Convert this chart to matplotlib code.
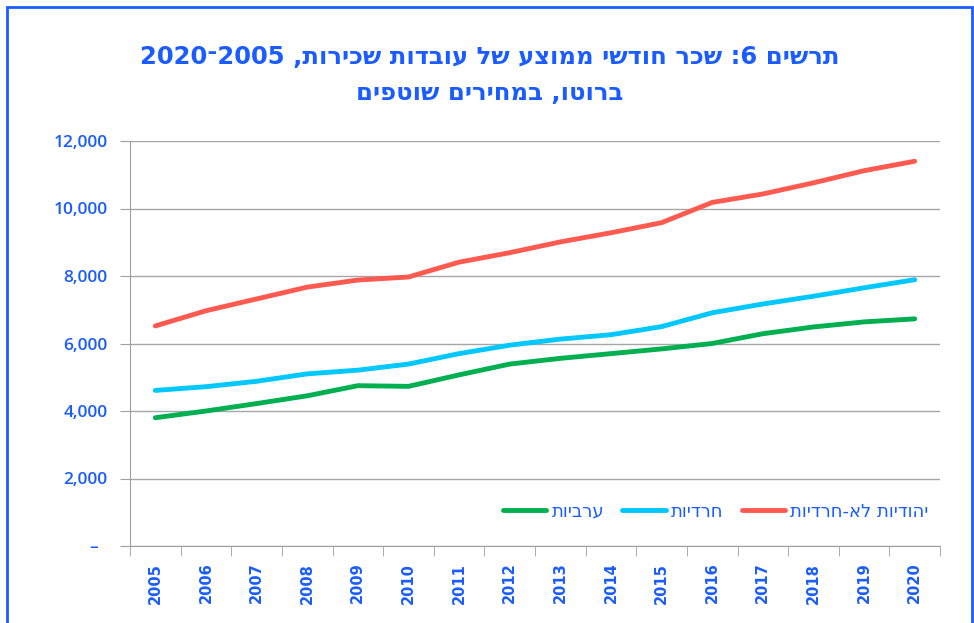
import numpy as np
import matplotlib.pyplot as plt
from matplotlib.patches import Rectangle
import re

# Data
years = [str(y) for y in range(2005, 2021)]
non_haredi = [6520, 6970, 7320, 7670, 7880, 7970, 8410, 8690, 9010, 9280, 9580, 10180, 10430, 10760, 11120, 11400]
haredi = [4610, 4720, 4880, 5100, 5210, 5390, 5700, 5950, 6130, 6260, 6500, 6910, 7170, 7400, 7650, 7890]
arab = [3800, 4000, 4220, 4450, 4750, 4730, 5070, 5390, 5560, 5700, 5840, 6000, 6290, 6490, 6640, 6730]

title_1 = "תרשים 6: שכר חודשי ממוצע של עובדות שכירות, 2005־2020"
title_2 = "ברוטו, במחירים שוטפים"
lbl_arab = "ערביות"
lbl_haredi = "חרדיות"
lbl_non = "יהודיות לא-חרדיות"

BLUE = '#1a5cff'


def rtl(s):
    # matplotlib has no bidi: reverse, then put digit runs back in order
    r = s[::-1]
    return re.sub(r'[0-9]+', lambda m: m.group(0)[::-1], r)


fig = plt.figure(figsize=(9.74, 6.23), dpi=100, facecolor='white')
ax = fig.add_axes([130 / 974, 1 - 546 / 623, 810 / 974, 405 / 623])

x = np.arange(len(years))
ax.plot(x, arab, color='#00b050', lw=3.5, solid_capstyle='round', label=rtl(lbl_arab))
ax.plot(x, haredi, color='#00c8ff', lw=3.5, solid_capstyle='round', label=rtl(lbl_haredi))
ax.plot(x, non_haredi, color='#ff5a50', lw=3.5, solid_capstyle='round', label=rtl(lbl_non))

ax.set_xlim(-0.5, len(years) - 0.5)
ax.set_ylim(0, 12000)
ax.set_yticks(range(0, 12001, 2000))
ax.set_yticklabels(['–  '] + [f'{v:,}' for v in range(2000, 12001, 2000)],
                   color=BLUE, fontsize=12.5, fontfamily='Open Sans', fontweight='semibold')
ax.yaxis.grid(True, color='#a6a6a6', lw=1)
ax.set_axisbelow(True)

ax.set_xticks(x)
ax.set_xticklabels(years, rotation=90, color=BLUE, fontsize=10.5, fontweight='bold',
                   fontfamily='DejaVu Sans')
ax.set_xticks(np.arange(-0.5, len(years)), minor=True)
ax.tick_params(axis='x', which='major', length=0, pad=12)
ax.tick_params(axis='x', which='minor', length=7, color='#a0a0a0', direction='out')
ax.tick_params(axis='y', length=7, color='#a0a0a0', pad=9)

for s in ['top', 'right']:
    ax.spines[s].set_visible(False)
for s in ['left', 'bottom']:
    ax.spines[s].set_color('#a0a0a0')

leg = ax.legend(loc='lower right', ncol=3, frameon=False, borderaxespad=0,
                bbox_to_anchor=(0.995, 0.045), handlelength=2.4, handletextpad=0.3,
                columnspacing=1.0, prop={'family': 'DejaVu Sans', 'size': 13})
for t in leg.get_texts():
    t.set_color(BLUE)

fig.text(490 / 974, 1 - 57 / 623, rtl(title_1), ha='center', va='center',
         color=BLUE, fontsize=17.5, fontweight='bold', fontfamily='DejaVu Sans')
fig.text(490 / 974, 1 - 93 / 623, rtl(title_2), ha='center', va='center',
         color=BLUE, fontsize=17.5, fontweight='bold', fontfamily='DejaVu Sans')

fig.patches.append(Rectangle((7 / 974, -0.05), 965 / 974, 1.05 - 7 / 623,
                             transform=fig.transFigure, fill=False,
                             edgecolor=BLUE, lw=2))

fig.savefig('out.png', dpi=100, facecolor='white')
